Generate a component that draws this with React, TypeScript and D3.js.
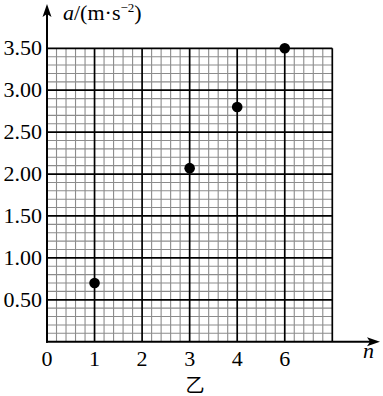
import React from "react";
import * as d3 from "d3";

const xLabels = ["0", "1", "2", "3", "4", "6"];
const yTicks = [0.5, 1.0, 1.5, 2.0, 2.5, 3.0, 3.5];
const pointN = ["1", "3", "4", "6"];
const pointA = [0.7, 2.07, 2.8, 3.5];

const W = 383;
const H = 396;

export default function App() {
  const x = d3.scaleLinear().domain([0, 6]).range([47, 332.3]);
  const y = d3.scaleLinear().domain([0, 3.5]).range([341.7, 48.3]);
  const serif = "'Liberation Serif', 'Times New Roman', serif";

  const minorX = d3.range(0, 31).map((i) => i / 5);
  const minorY = d3.range(0, 36).map((j) => j / 10);

  return (
    <svg
      width={W}
      height={H}
      style={{ position: "absolute", left: 0, top: 0, background: "#fff" }}
    >
      <rect x={0} y={0} width={W} height={H} fill="#fff" />
      {/* minor grid */}
      {minorX.map((v, i) =>
        i % 5 !== 0 ? (
          <line key={"mx" + i} x1={x(v)} x2={x(v)} y1={y(0)} y2={y(3.5)} stroke="#8c8c8c" strokeWidth={1.1} />
        ) : null
      )}
      {minorY.map((v, j) =>
        j % 5 !== 0 ? (
          <line key={"my" + j} y1={y(v)} y2={y(v)} x1={x(0)} x2={x(6)} stroke="#8c8c8c" strokeWidth={1.1} />
        ) : null
      )}
      {/* major grid */}
      {minorX.map((v, i) =>
        i % 5 === 0 && i !== 0 ? (
          <line key={"Mx" + i} x1={x(v)} x2={x(v)} y1={y(0)} y2={y(3.5)} stroke="#000" strokeWidth={1.7} />
        ) : null
      )}
      {yTicks.map((v) => (
        <line key={"My" + v} y1={y(v)} y2={y(v)} x1={x(0)} x2={x(6)} stroke="#000" strokeWidth={1.7} />
      ))}
      {/* axes */}
      <line x1={x(0)} x2={x(0)} y1={y(0) + 1} y2={14} stroke="#000" strokeWidth={2} />
      <polygon points={`${x(0)},4 ${x(0) - 4.5},17 ${x(0)},14 ${x(0) + 4.5},17`} fill="#000" />
      <line x1={x(0) - 1} x2={372} y1={y(0)} y2={y(0)} stroke="#000" strokeWidth={2} />
      <polygon points={`380,${y(0)} 367,${y(0) - 4.5} 370,${y(0)} 367,${y(0) + 4.5}`} fill="#000" />
      {/* y tick labels */}
      {yTicks.map((v) => (
        <text key={"yl" + v} x={42} y={y(v) + 7} textAnchor="end" fontFamily={serif} fontSize={22} fill="#000">
          {v.toFixed(2)}
        </text>
      ))}
      {/* x tick labels */}
      {xLabels.map((l, i) => (
        <text key={"xl" + l} x={x(i)} y={366} textAnchor="middle" fontFamily={serif} fontSize={22} fill="#000">
          {l}
        </text>
      ))}
      {/* axis titles */}
      <text x={63} y={20} fontFamily={serif} fontSize={22} fill="#000">
        <tspan fontStyle="italic">a</tspan>
        <tspan>/(m·s</tspan>
        <tspan fontSize={13} dy={-8}>−2</tspan>
        <tspan dy={8}>)</tspan>
      </text>
      <text x={363} y={358} fontFamily={serif} fontSize={22} fontStyle="italic" fill="#000">
        n
      </text>
      <text x={195} y={392} textAnchor="middle" fontFamily="'Noto Sans CJK SC', sans-serif" fontSize={19} fill="#000">
        乙
      </text>
      {/* points */}
      {pointN.map((n, i) => (
        <circle key={"p" + i} cx={x(xLabels.indexOf(n))} cy={y(pointA[i])} r={5.3} fill="#000" />
      ))}
    </svg>
  );
}
